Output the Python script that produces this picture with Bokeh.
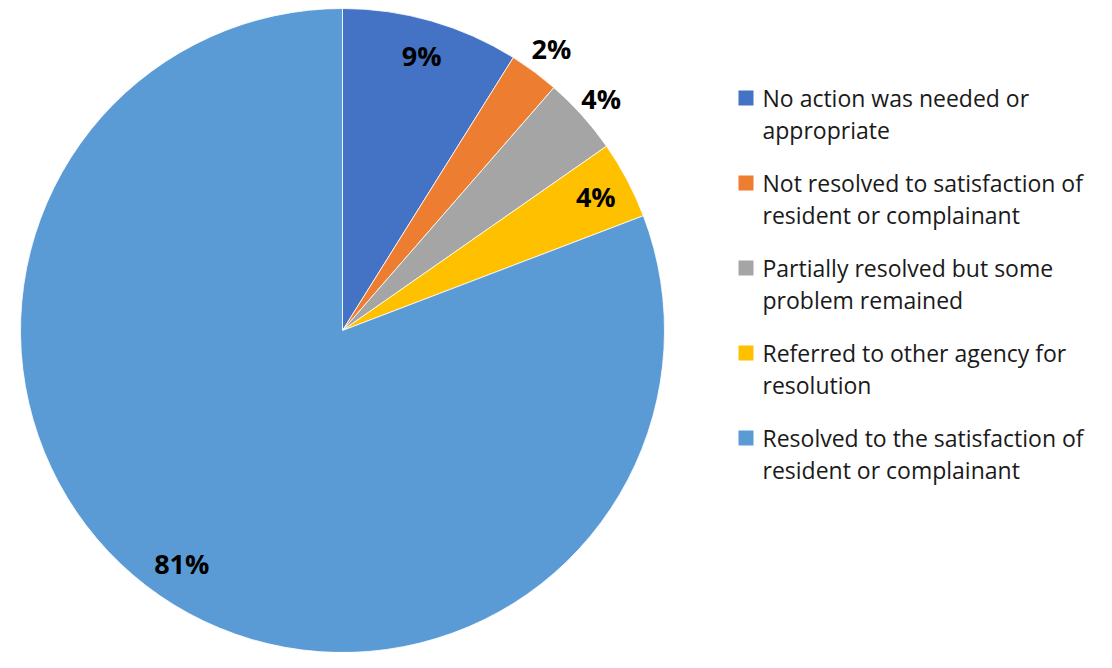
import math
from bokeh.plotting import figure
from bokeh.models import Range1d, ColumnDataSource
from bokeh.core.properties import value
from bokeh.embed import file_html
from bokeh.resources import INLINE

# ---- data ----
categories = [
    "No action was needed or appropriate",
    "Not resolved to satisfaction of resident or complainant",
    "Partially resolved but some problem remained",
    "Referred to other agency for resolution",
    "Resolved to the satisfaction of resident or complainant",
]
legend_lines = [
    ["No action was needed or", "appropriate"],
    ["Not resolved to satisfaction of", "resident or complainant"],
    ["Partially resolved but some", "problem remained"],
    ["Referred to other agency for", "resolution"],
    ["Resolved to the satisfaction of", "resident or complainant"],
]
values = [8.9, 2.5, 3.9, 3.9, 80.8]
pct_labels = ["9%", "2%", "4%", "4%", "81%"]
colors = ["#4472C4", "#ED7D31", "#A5A5A5", "#FFC000", "#5B9BD5"]
label_radius_factor = [0.89, 1.09, 1.08, 0.89, 0.88]

# ---- geometry (picture-pixel-like data coords, y = -pixel_y) ----
W, H = 1096, 652
cx, cy, R = 342, -330, 322
FONT = "Open Sans"

p = figure(width=W, height=H, output_backend="svg", toolbar_location=None,
           x_range=Range1d(0, W), y_range=Range1d(-H, 0),
           min_border=0, outline_line_color=None, background_fill_color="white")
p.axis.visible = False
p.xgrid.visible = False
p.ygrid.visible = False

total = sum(values)
starts, ends, lx, ly = [], [], [], []
cum = 0.0
for v, f in zip(values, label_radius_factor):
    a0 = cum / total * 2 * math.pi
    cum += v
    a1 = cum / total * 2 * math.pi
    starts.append(math.pi / 2 - a0)
    ends.append(math.pi / 2 - a1)
    mid = (a0 + a1) / 2
    lx.append(cx + f * R * math.sin(mid))
    ly.append(cy + f * R * math.cos(mid))

src = ColumnDataSource(dict(start=starts, end=ends, color=colors, cat=categories))
p.wedge(x=cx, y=cy, radius=R, start_angle="start", end_angle="end", direction="clock",
        fill_color="color", line_color="white", line_width=0.8, source=src)

lsrc = ColumnDataSource(dict(x=lx, y=ly, t=pct_labels))
p.text(x="x", y="y", text="t", source=lsrc, text_align="center", text_baseline="middle",
       text_font=value(FONT), text_font_style="bold", text_font_size="27px", text_color="black")

# ---- legend (manual, wrapped lines) ----
mx, tx, y0, step, lh = 745.5, 762, -97.5, 85, 32
for i, (lines, c) in enumerate(zip(legend_lines, colors)):
    yy = y0 - i * step
    p.rect(x=mx, y=yy, width=15, height=15, fill_color=c, line_color=None)
    p.text(x=[tx] * len(lines), y=[yy - k * lh for k in range(len(lines))], text=lines,
           text_align="left", text_baseline="middle", text_font=value(FONT),
           text_font_size="23px", text_color="#1a1a1a")

open("out.html", "w").write(file_html(p, INLINE))
